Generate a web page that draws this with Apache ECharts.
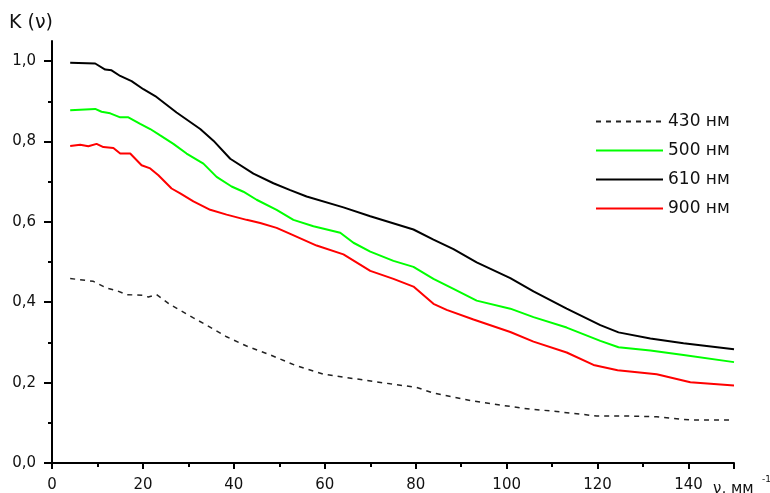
<!DOCTYPE html>
<html>
<head>
<meta charset="utf-8">
<script src="https://cdn.jsdelivr.net/npm/echarts@6/dist/echarts.min.js"></script>
<style>html,body{margin:0;padding:0;background:#fff}#c{width:770px;height:493px}</style>
</head>
<body>
<div id="c"></div>
<script>
// ---- data ----
const seriesNames = ['430 нм', '500 нм', '610 нм', '900 нм'];

const v430 = [4, 9.1, 12, 14.2, 16.4, 20.1, 21.2, 23, 26, 31.1, 34, 38.4, 42.8, 48, 53.5, 59.7, 67, 74.4, 80.2, 83.9, 92.7, 103.7, 111, 119.8, 125.7, 133, 140.4, 150];
const k430 = [0.459, 0.452, 0.435, 0.429, 0.419, 0.417, 0.413, 0.419, 0.394, 0.361, 0.343, 0.314, 0.291, 0.269, 0.243, 0.221, 0.209, 0.197, 0.188, 0.174, 0.154, 0.136, 0.128, 0.117, 0.117, 0.115, 0.107, 0.107];

const v500 = [4, 9.5, 10.9, 12.8, 15, 16.8, 19.4, 21.6, 23.8, 26.7, 29.6, 33.3, 36.2, 39.5, 42.1, 45, 49.4, 53.1, 57.5, 63.4, 66.3, 70, 75.1, 79.5, 83.9, 88.3, 93.4, 100.8, 105.9, 113.2, 120.6, 124.6, 131.6, 138.9, 150];
const k500 = [0.878, 0.881, 0.874, 0.870, 0.860, 0.860, 0.844, 0.831, 0.815, 0.794, 0.770, 0.745, 0.712, 0.688, 0.675, 0.655, 0.630, 0.605, 0.589, 0.573, 0.548, 0.526, 0.503, 0.488, 0.458, 0.433, 0.404, 0.384, 0.363, 0.337, 0.304, 0.288, 0.280, 0.269, 0.251];

const v610 = [4, 9.5, 11.7, 13.1, 15, 17.5, 20.1, 22.7, 27.4, 32.6, 35.5, 39.2, 44.3, 48.7, 52.4, 56, 64.1, 70, 79.5, 83.9, 88.3, 93.4, 100.8, 105.9, 113.2, 120.6, 124.6, 131.6, 138.9, 150];
const k610 = [0.996, 0.994, 0.979, 0.977, 0.963, 0.950, 0.930, 0.913, 0.872, 0.831, 0.802, 0.757, 0.720, 0.696, 0.679, 0.663, 0.636, 0.614, 0.581, 0.556, 0.532, 0.499, 0.460, 0.427, 0.384, 0.343, 0.325, 0.310, 0.298, 0.283];

const v900 = [4, 6.2, 8, 9.8, 11.3, 13.5, 15, 17.2, 19.7, 21.6, 23.4, 26.3, 28.2, 31.1, 34.8, 38.4, 42.8, 45.8, 49.4, 52.4, 58.2, 64.1, 70, 75.1, 79.5, 83.9, 86.8, 92.7, 100.8, 105.9, 113.2, 119.1, 124.4, 133, 140.4, 150];
const k900 = [0.789, 0.792, 0.788, 0.794, 0.786, 0.784, 0.770, 0.770, 0.741, 0.733, 0.716, 0.683, 0.671, 0.651, 0.630, 0.618, 0.605, 0.597, 0.585, 0.570, 0.541, 0.519, 0.478, 0.458, 0.439, 0.396, 0.381, 0.357, 0.326, 0.302, 0.275, 0.244, 0.231, 0.221, 0.201, 0.193];

const xMajorTicks = [0, 20, 40, 60, 80, 100, 120, 140, 150];
const xMinorTicks = [10, 30, 50, 70, 90, 110, 130];
const xTickLabels = [0, 20, 40, 60, 80, 100, 120, 140];
const yMajorTicks = [0, 0.2, 0.4, 0.6, 0.8, 1.0];
const yMinorTicks = [0.1, 0.3, 0.5, 0.7, 0.9];

const yTitle = 'K (ν)';
const xTitle = 'ν, мм';
const xTitleSup = '-1';

// ---- chart ----
const FONT = 'DejaVu Sans';
const zip = (a, b) => a.map((v, i) => [v, b[i]]);
const chart = echarts.init(document.getElementById('c'), null, {renderer: 'canvas'});

const baseX = {type: 'value', min: 0, max: 150, gridIndex: 0, position: 'bottom', splitLine: {show: false}};
const baseY = {type: 'value', min: 0, max: 1.05, gridIndex: 0, position: 'left', splitLine: {show: false}};

chart.setOption({
  animation: false,
  backgroundColor: '#fff',
  grid: {left: 52, right: 36, top: 41, bottom: 25, containLabel: false},
  xAxis: [
    Object.assign({}, baseX, {
      axisLine: {show: true, lineStyle: {color: '#000', width: 2}},
      axisTick: {show: true, inside: false, length: 6, lineStyle: {color: '#000', width: 2}, customValues: xMajorTicks},
      axisLabel: {show: true, margin: 15, fontSize: 15, fontFamily: FONT, color: '#111', customValues: xTickLabels}
    }),
    Object.assign({}, baseX, {
      axisLine: {show: false},
      axisTick: {show: true, inside: false, length: 4, lineStyle: {color: '#000', width: 2}, customValues: xMinorTicks},
      axisLabel: {show: false}
    })
  ],
  yAxis: [
    Object.assign({}, baseY, {
      axisLine: {show: true, lineStyle: {color: '#000', width: 2}},
      axisTick: {show: true, inside: false, length: 8, lineStyle: {color: '#000', width: 2}, customValues: yMajorTicks},
      axisLabel: {show: true, margin: 16, fontSize: 15, fontFamily: FONT, color: '#111', customValues: yMajorTicks,
        formatter: v => v.toFixed(1).replace('.', ',')}
    }),
    Object.assign({}, baseY, {
      axisLine: {show: false},
      axisTick: {show: true, inside: false, length: 4, lineStyle: {color: '#000', width: 2}, customValues: yMinorTicks},
      axisLabel: {show: false}
    })
  ],
  legend: {
    orient: 'vertical', left: 595, top: 113, padding: 0,
    itemWidth: 67, itemHeight: 14, itemGap: 12,
    itemStyle: {opacity: 0},
    textStyle: {fontSize: 17, fontFamily: FONT, color: '#111', lineHeight: 14},
    data: seriesNames
  },
  graphic: [
    {type: 'text', left: 9, top: 14, style: {text: yTitle, fontSize: 19, fontFamily: FONT, fill: '#111'}},
    {type: 'text', left: 713, top: 482, style: {text: xTitle, fontSize: 15, fontFamily: FONT, fill: '#111'}},
    {type: 'text', left: 762, top: 475, style: {text: xTitleSup, fontSize: 9, fontFamily: FONT, fill: '#111'}}
  ],
  series: [
    {name: seriesNames[0], type: 'line', data: zip(v430, k430), symbol: 'none', showSymbol: false,
      lineStyle: {color: '#222', width: 1.5, type: [5, 5]}, itemStyle: {color: '#222'}},
    {name: seriesNames[1], type: 'line', data: zip(v500, k500), symbol: 'none', showSymbol: false,
      lineStyle: {color: '#00ff00', width: 2}, itemStyle: {color: '#00ff00'}},
    {name: seriesNames[2], type: 'line', data: zip(v610, k610), symbol: 'none', showSymbol: false,
      lineStyle: {color: '#000', width: 2}, itemStyle: {color: '#000'}},
    {name: seriesNames[3], type: 'line', data: zip(v900, k900), symbol: 'none', showSymbol: false,
      lineStyle: {color: '#ff0000', width: 2}, itemStyle: {color: '#ff0000'}}
  ]
});
</script>
</body>
</html>
